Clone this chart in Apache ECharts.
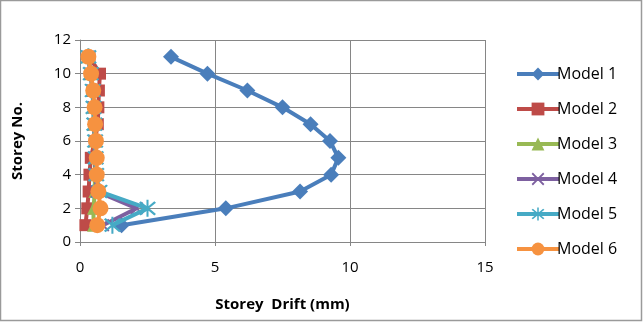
<!DOCTYPE html>
<html><head><meta charset="utf-8">
<script src="https://cdn.jsdelivr.net/npm/echarts@6/dist/echarts.min.js"></script>
<style>html,body{margin:0;padding:0;background:#fff}#c{width:643px;height:322px}</style>
</head><body><div id="c"></div>
<script>
const storeys = [1,2,3,4,5,6,7,8,9,10,11];
const model1 = [1.54, 5.4, 8.15, 9.3, 9.57, 9.26, 8.54, 7.5, 6.2, 4.72, 3.37];
const model2 = [0.2, 0.27, 0.32, 0.35, 0.4, 0.55, 0.66, 0.68, 0.7, 0.74, 0.35];
const model3 = [0.5, 0.5, 0.55, 0.55, 0.55, 0.55, 0.5, 0.5, 0.45, 0.4, 0.3];
const model4 = [0.85, 2.1, 0.62, 0.58, 0.56, 0.55, 0.52, 0.5, 0.46, 0.4, 0.3];
const model5 = [1.2, 2.5, 0.72, 0.6, 0.58, 0.56, 0.53, 0.5, 0.47, 0.4, 0.31];
const model6 = [0.64, 0.76, 0.68, 0.62, 0.62, 0.59, 0.56, 0.54, 0.49, 0.41, 0.31];
const names = ['Model 1','Model 2','Model 3','Model 4','Model 5','Model 6'];
const xTicks = [0,5,10,15];
const yTicks = [0,2,4,6,8,10,12];

const colors = ['#4A7EBB','#BE4B48','#98B954','#7D60A0','#46AAC5','#F69240'];
const X = 'path://M1,0L5,4L9,0L10,1L6,5L10,9L9,10L5,6L1,10L0,9L4,5L0,1Z';
const STAR = 'path://M1,0L5,4L9,0L10,1L6,5L10,9L9,10L5,6L1,10L0,9L4,5L0,1Z M4.4,-1L5.6,-1L5.6,11L4.4,11Z';
const symbols = ['diamond','rect','triangle',X,STAR,'circle'];
const sizes = [16,12,13,13,17,16];
const all = [model1,model2,model3,model4,model5,model6];
const font = '"Open Sans", "Liberation Sans", sans-serif';

const series = all.map((vals,i)=>({
  name: names[i], type:'line', data: vals.map((v,k)=>[v, storeys[k]]),
  symbol: symbols[i], symbolSize: sizes[i], showAllSymbol:true,
  lineStyle:{color:colors[i], width:4}, itemStyle:{color:colors[i]},
  z: 2+i, animation:false
}));

const chart = echarts.init(document.getElementById('c'));
chart.setOption({
  animation:false,
  grid:{left:80, top:40, width:405, height:202},
  xAxis:{type:'value', min:0, max:15, interval:5,
    name:'Storey  Drift (mm)', nameLocation:'middle', nameGap:55,
    nameTextStyle:{fontFamily:font, fontWeight:'bold', fontSize:15, color:'#000'},
    axisLine:{show:true, lineStyle:{color:'#868686'}},
    axisTick:{show:true, length:4, lineStyle:{color:'#868686'}},
    axisLabel:{fontFamily:font, fontSize:15, color:'#000', margin:18},
    splitLine:{show:true, lineStyle:{color:'#868686'}}},
  yAxis:{type:'value', min:0, max:12, interval:2,
    name:'Storey No.', nameLocation:'middle', nameGap:55, nameRotate:90,
    nameTextStyle:{fontFamily:font, fontWeight:'bold', fontSize:15, color:'#000'},
    axisLine:{show:true, lineStyle:{color:'#868686'}},
    axisTick:{show:true, length:5, lineStyle:{color:'#868686'}},
    axisLabel:{fontFamily:font, fontSize:15, color:'#000', margin:9},
    splitLine:{show:true, lineStyle:{color:'#868686'}}},
  legend:{orient:'vertical', left:510, top:61, itemWidth:42, itemHeight:16, itemGap:19,
    lineStyle:{width:4},
    textStyle:{fontFamily:font, fontSize:16, color:'#000', padding:[0,0,0,-7]},
    data:names},
  graphic:[{type:'rect', shape:{x:0.5,y:0.5,width:641,height:320}, style:{fill:null, stroke:'#9a9a9a', lineWidth:1.5}, silent:true}],
  series
});
</script></body></html>
